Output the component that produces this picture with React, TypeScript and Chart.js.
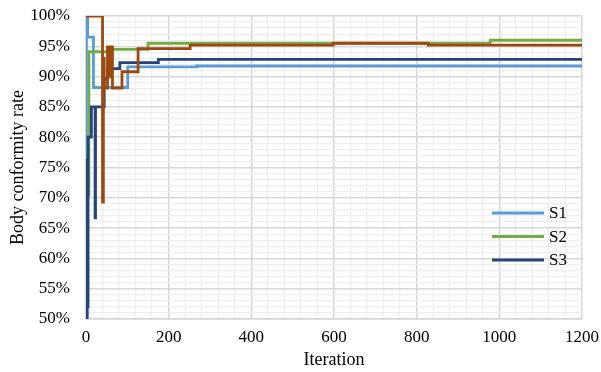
import React, { useEffect, useRef } from "react";
import { Chart, registerables } from "chart.js";

Chart.register(...registerables);

// Iteration at which each value starts, and the value (%)
const s1Iter = [0, 1, 4, 18, 101, 268, 1200];
const s1Vals = [76, 100, 96.5, 88.2, 91.6, 91.75, 91.75];

const s2Iter = [0, 3, 7, 60, 150, 978, 1200];
const s2Vals = [76, 70.5, 94.1, 94.5, 95.5, 96.0, 96.0];

const s3Iter = [0, 1, 3, 5, 13, 22, 23, 44, 53, 82, 175, 1200];
const s3Vals = [76.2, 50, 52, 80, 85, 66.7, 85, 89.7, 91.3, 92.3, 92.85, 92.85];

const s4Iter = [0, 40, 42, 44, 52, 56, 60, 64, 87, 126, 252, 598, 828, 1200];
const s4Vals = [100, 69.3, 93, 88.1, 94.9, 90, 94.9, 88.1, 90.8, 94.6, 95.2, 95.5, 95.2, 95.2];

const seriesNames = ["S1", "S2", "S3", "S4"];
const seriesColors = ["#5B9BD5", "#70AD47", "#264478", "#9E480E"];
const legendShown = [true, true, true, false];

const xMin = 0, xMax = 1200, xMajor = 200, xMinor = 40;
const yMin = 50, yMax = 100, yMajor = 5, yMinor = 1;

const FONT = "'Liberation Serif', 'Times New Roman', serif";

function range(a: number, b: number, s: number) {
  const out: number[] = [];
  for (let v = a; v <= b + 1e-9; v += s) out.push(Math.round(v * 1000) / 1000);
  return out;
}

export default function App() {
  const ref = useRef<HTMLCanvasElement | null>(null);

  useEffect(() => {
    if (!ref.current) return;
    const iters = [s1Iter, s2Iter, s3Iter, s4Iter];
    const vals = [s1Vals, s2Vals, s3Vals, s4Vals];
    const datasets = seriesNames.map((name, i) => ({
      label: name,
      data: iters[i].map((x, k) => ({ x, y: vals[i][k] })),
      borderColor: seriesColors[i],
      backgroundColor: seriesColors[i],
      borderWidth: 2.8,
      pointRadius: 0,
      stepped: true as const,
      fill: false,
      borderJoinStyle: "miter" as const,
      order: 4 - i,
    }));

    const legendPlugin = {
      id: "customLegend",
      afterDraw(chart: any) {
        const { ctx, chartArea } = chart;
        ctx.save();
        let row = 0;
        seriesNames.forEach((name, i) => {
          if (!legendShown[i]) return;
          const y = chartArea.top + 197 + row * 23.5;
          const x1 = chartArea.right - 90;
          ctx.strokeStyle = seriesColors[i];
          ctx.lineWidth = 2.8;
          ctx.beginPath();
          ctx.moveTo(x1, y);
          ctx.lineTo(x1 + 52, y);
          ctx.stroke();
          ctx.fillStyle = "#000";
          ctx.font = `17px ${FONT}`;
          ctx.textBaseline = "middle";
          ctx.textAlign = "left";
          ctx.fillText(name, x1 + 57, y + 1);
          row++;
        });
        ctx.restore();
      },
    };

    const chart = new Chart(ref.current, {
      type: "line",
      data: { datasets },
      options: {
        animation: false,
        responsive: false,
        layout: { padding: { top: 16, right: 19, bottom: 0, left: 0 } },
        plugins: { legend: { display: false }, tooltip: { enabled: false } },
        scales: {
          x: {
            type: "linear",
            min: xMin,
            max: xMax,
            afterBuildTicks: (scale: any) => {
              scale.ticks = range(xMin, xMax, xMinor).map((v) => ({ value: v }));
            },
            afterFit: (scale: any) => {
              scale.height = 53;
              scale.paddingLeft = 0;
              scale.paddingRight = 0;
            },
            ticks: {
              autoSkip: false,
              maxRotation: 0,
              padding: 8,
              color: "#000",
              font: { family: FONT, size: 17 },
              callback: (v: any) => (Math.round(v) % xMajor === 0 ? String(v) : ""),
            },
            grid: {
              drawTicks: false,
              color: (c: any) => (c.tick && Math.round(c.tick.value) % xMajor === 0 ? "#d6d6d6" : "#eeeeee"),
              lineWidth: (c: any) => (c.tick && Math.round(c.tick.value) % xMajor === 0 ? 1.5 : 1.3),
            },
            border: { color: "#d6d6d6", width: 1.5 },
            title: {
              display: true,
              text: "Iteration",
              color: "#000",
              font: { family: FONT, size: 18 },
              padding: { top: 0, bottom: 1 },
            },
          },
          y: {
            type: "linear",
            min: yMin,
            max: yMax,
            afterBuildTicks: (scale: any) => {
              scale.ticks = range(yMin, yMax, yMinor).map((v) => ({ value: v }));
            },
            afterFit: (scale: any) => {
              scale.width = 86;
              scale.paddingTop = 0;
              scale.paddingBottom = 0;
            },
            ticks: {
              autoSkip: false,
              padding: 16,
              color: "#000",
              font: { family: FONT, size: 17 },
              callback: (v: any) => (Math.round(v) % yMajor === 0 ? `${v}%` : ""),
            },
            grid: {
              drawTicks: false,
              color: (c: any) => (c.tick && Math.round(c.tick.value) % yMajor === 0 ? "#d6d6d6" : "#eeeeee"),
              lineWidth: (c: any) => (c.tick && Math.round(c.tick.value) % yMajor === 0 ? 1.5 : 1.3),
            },
            border: { color: "#d6d6d6", width: 1.5 },
            title: {
              display: true,
              text: "Body conformity rate",
              color: "#000",
              font: { family: FONT, size: 18 },
              padding: { top: 7, bottom: 0 },
            },
          },
        },
      },
      plugins: [legendPlugin],
    });
    return () => chart.destroy();
  }, []);

  return (
    <div style={{ position: "fixed", left: 0, top: 0, width: 601, height: 372, background: "#fff" }}>
      <canvas ref={ref} width={601} height={372} style={{ width: 601, height: 372, display: "block" }} />
    </div>
  );
}
